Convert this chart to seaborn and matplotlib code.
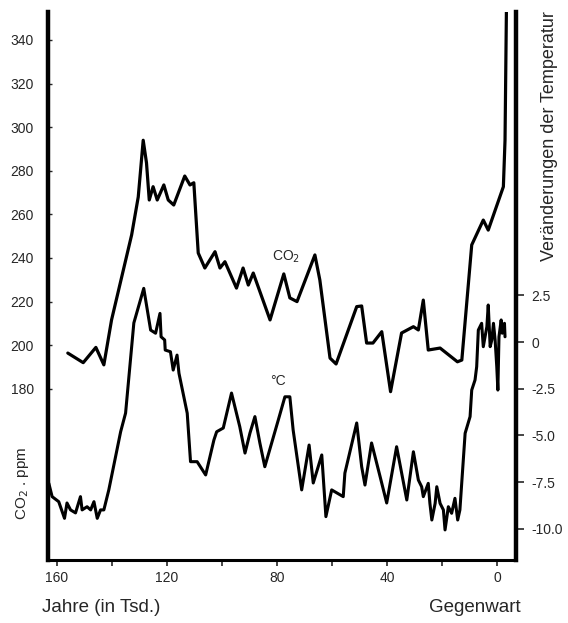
import matplotlib
matplotlib.use("Agg")
import matplotlib.pyplot as plt
import seaborn as sns
import pandas as pd

# CO2 record (age in thousand years before present, ppm)
co2_age = [156.0, 150.4, 145.8, 142.9, 140.1, 132.8, 130.4, 128.6, 127.4, 126.4, 125.0, 123.5,
           121.1, 119.5, 117.5, 113.5, 111.6, 110.2, 108.6, 106.2, 102.5, 100.7, 98.9, 94.7,
           92.3, 90.4, 88.6, 82.5, 77.5, 75.3, 72.7, 66.2, 64.4, 60.7, 58.5, 51.0, 49.2, 47.4,
           45.1, 41.9, 38.7, 34.7, 30.4, 28.6, 26.8, 25.0, 20.7, 14.4, 12.8, 9.2, 5.0, 3.2,
           -2.3, -2.9, -3.5]
co2_ppm = [196.4, 192.0, 199.0, 191.0, 211.6, 250.6, 268.0, 294.0, 283.6, 266.6, 272.7, 266.6,
           273.5, 266.6, 264.3, 277.6, 273.5, 274.5, 242.3, 235.4, 242.9, 235.4, 238.3, 226.2,
           235.4, 227.6, 233.1, 211.6, 232.7, 221.7, 220.0, 241.4, 229.9, 194.1, 191.4, 217.7,
           218.0, 201.0, 201.0, 206.2, 178.7, 205.6, 208.5, 207.0, 220.7, 197.8, 198.7, 192.4,
           193.2, 246.0, 257.4, 252.8, 272.7, 294.0, 365.0]

# Temperature change record (age in thousand years, deg C)
temp_age = [162.9, 161.7, 159.3, 157.2, 156.3, 155.0, 153.2, 151.4, 150.8, 149.0, 147.7, 146.5,
            145.3, 144.1, 142.9, 141.1, 136.8, 135.0, 132.0, 128.4, 125.9, 124.1, 122.5, 122.1,
            120.8, 120.6, 118.7, 117.7, 116.3, 115.6, 112.6, 111.4, 109.0, 105.9, 102.9,
            101.9, 99.5, 96.5, 93.5, 91.6, 89.8, 88.0, 86.2, 84.4, 79.5,
            77.1, 75.3, 74.1, 71.0, 68.3, 66.8, 63.7, 62.2, 60.1, 55.9, 55.3, 51.0, 49.2, 48.0,
            45.6, 42.5, 40.1, 36.5, 32.8, 30.4, 28.6, 27.4, 26.8, 25.0, 24.4, 23.7, 22.5, 21.9,
            20.7, 19.5, 18.9, 17.7, 16.5, 15.3, 14.3, 13.5, 11.6, 9.8, 9.2, 8.0, 7.4, 6.8, 5.6,
            5.0, 3.7, 3.2, 2.5, 1.9, 1.3, 0.7, 0.1, -0.3, -0.7, -1.5, -1.9, -2.7, -2.9]
temp_c = [-7.56, -8.27, -8.54, -9.43, -8.61, -8.98, -9.14, -8.27, -8.98, -8.81, -8.98, -8.54,
          -9.43, -8.98, -8.98, -7.91, -4.80, -3.80, 1.02, 2.87, 0.64, 0.47, 1.53, 0.28,
          0.11, -0.43, -0.52, -1.50, -0.70, -1.67, -3.81, -6.40, -6.40, -7.11, -5.24,
          -4.80, -4.60, -2.73, -4.53, -5.94, -4.87, -3.99, -5.40, -6.67, -4.17,
          -2.93, -2.93, -4.71, -7.91, -5.51, -7.54, -6.04, -9.34, -7.91, -8.27, -7.01,
          -4.33, -6.67, -7.65, -5.40, -7.20, -8.61, -5.60, -8.45, -5.87, -7.38, -7.74, -8.27,
          -7.56, -8.63, -9.52, -8.63, -7.74, -8.63, -8.98, -10.05, -8.81, -9.16, -8.36, -9.52,
          -8.98, -4.88, -3.99, -2.57, -2.03, -1.32, 0.64, 1.00, -0.25, 0.82, 1.98, -0.25,
          0.11, 1.00, 0.11, -1.32, -2.57, 0.28, 1.18, 0.47, 1.00, 0.28]

x_ticks = [160, 120, 80, 40, 0]
x_minor = [140, 100, 60, 20]
co2_ticks = [180, 200, 220, 240, 260, 280, 300, 320, 340]
temp_ticks = [2.5, 0, -2.5, -5.0, -7.5, -10.0]
temp_tick_labels = ["2.5", "0", "-2.5", "-5.0", "-7.5", "-10.0"]

sns.set_style("white")
plt.rcParams['font.family'] = ['Liberation Sans', 'DejaVu Sans']

fig = plt.figure(figsize=(5.68, 6.23), dpi=100)
ax = fig.add_axes([0.0845, 0.1011, 0.824, 0.8796])
ax2 = ax.twinx()

df_co2 = pd.DataFrame({"age": co2_age, "co2": co2_ppm})
df_t = pd.DataFrame({"age": temp_age, "t": temp_c})

sns.lineplot(data=df_co2, x="age", y="co2", ax=ax, color="black", linewidth=2.3,
             sort=False, estimator=None)
sns.lineplot(data=df_t, x="age", y="t", ax=ax2, color="black", linewidth=2.2,
             sort=False, estimator=None)

ax.set_xlim(163.2, -6.9)
ax.set_ylim(101.5, 352.8)
ax2.set_ylim(-11.66, 17.65)

ax.set_xticks(x_ticks)
ax.set_xticks(x_minor, minor=True)
ax.set_yticks(co2_ticks)
ax2.set_yticks(temp_ticks)
ax2.set_yticklabels(temp_tick_labels)

ax.set_xlabel("")
ax.set_ylabel("")
ax2.set_ylabel("")

for a in (ax, ax2):
    a.spines['top'].set_visible(False)
    for s in ('left', 'right', 'bottom'):
        a.spines[s].set_color('black')
ax.spines['left'].set_linewidth(3.2)
ax.spines['bottom'].set_linewidth(2.2)
ax2.spines['right'].set_linewidth(3.2)
ax2.spines['left'].set_visible(False)
ax2.spines['bottom'].set_visible(False)
ax.spines['right'].set_visible(False)

ax.tick_params(axis='x', which='both', direction='out', length=4, width=1.2,
               labelsize=10, pad=4, bottom=True)
ax.tick_params(axis='y', direction='in', length=3, width=1, labelsize=10, pad=10, left=True)
ax2.tick_params(axis='y', direction='out', length=6, width=1.2, labelsize=10, pad=5, right=True)

fig.text(0.074, 0.012, "Jahre (in Tsd.)", fontsize=13.5, ha='left', va='bottom')
fig.text(0.917, 0.012, "Gegenwart", fontsize=13.5, ha='right', va='bottom')
fig.text(0.040, 0.225, "CO$_2$ . ppm", fontsize=11, rotation=90, ha='center', va='center')
fig.text(0.967, 0.782, "Veränderungen der Temperatur", fontsize=13, rotation=90,
         ha='center', va='center')

ax.text(76.5, 240.5, "CO$_2$", fontsize=10, ha='center', va='center')
ax2.text(79.5, -2.1, "°C", fontsize=10, ha='center', va='center')

fig.savefig("out.png", dpi=100)
